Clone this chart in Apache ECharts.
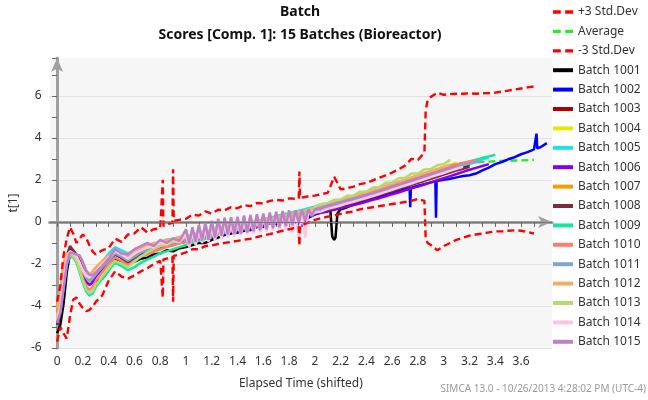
<!DOCTYPE html>
<html>
<head>
<meta charset="utf-8">
<script src="https://cdn.jsdelivr.net/npm/echarts@6/dist/echarts.min.js"></script>
<style>
  html, body { margin: 0; padding: 0; background: #fff; }
  #chart { width: 648px; height: 400px; }
</style>
</head>
<body>
<div id="chart"></div>
<script>
// elapsed time grid shared by all trajectories
const tGrid = [0, 0.025, 0.05, 0.075, 0.1, 0.125, 0.15, 0.175, 0.2, 0.225, 0.25, 0.275, 0.3,
  0.35, 0.4, 0.45, 0.5, 0.55, 0.6, 0.65, 0.7, 0.75, 0.8, 0.85, 0.9, 0.95,
  1.0, 1.05, 1.1, 1.15, 1.2, 1.25, 1.3, 1.35, 1.4, 1.45, 1.5, 1.55, 1.6, 1.65, 1.7, 1.75, 1.8, 1.85, 1.9, 1.95,
  2.0, 2.05, 2.1, 2.15, 2.2, 2.25, 2.3, 2.35, 2.4, 2.45, 2.5, 2.55, 2.6, 2.65, 2.7, 2.75, 2.8, 2.85, 2.9, 2.95,
  3.0, 3.05, 3.1, 3.15, 3.2, 3.25, 3.3, 3.35, 3.4, 3.45, 3.5, 3.55, 3.6, 3.65, 3.7, 3.75, 3.8];

const xTickVals = [0, 0.1, 0.2, 0.3, 0.4, 0.5, 0.6, 0.7, 0.8, 0.9, 1, 1.1, 1.2, 1.3, 1.4, 1.5, 1.6, 1.7, 1.8, 1.9,
  2, 2.1, 2.2, 2.3, 2.4, 2.5, 2.6, 2.7, 2.8, 2.9, 3, 3.1, 3.2, 3.3, 3.4, 3.5, 3.6, 3.7];
const xLabelVals = [0, 0.2, 0.4, 0.6, 0.8, 1, 1.2, 1.4, 1.6, 1.8, 2, 2.2, 2.4, 2.6, 2.8, 3, 3.2, 3.4, 3.6];

// control limits
const upper = [-3.8, -3.0, -1.6, -0.8, -0.25, -0.55, -1.0, -0.8, -0.6, -0.75, -1.1, -1.4, -1.55,
  -1.35, -1.25, -0.8, -0.95, -0.6, -0.55, -0.25, -0.5, -0.35, -0.3, -0.1, 2.5, 0.1,
  0.15, 0.35, 0.3, 0.5, 0.4, 0.58, 0.55, 0.7, 0.65, 0.8, 0.75, 0.9, 0.88, 1.0, 1.05, 1.02, 1.12, 1.1, 1.2, 1.22,
  1.25, 1.32, 1.38, 2.15, 1.55, 1.6, 1.68, 1.8, 1.85, 1.98, 2.1, 2.22, 2.35, 2.5, 2.68, 3.0, 2.95, 3.3, 5.95, 6.15,
  6.05, 6.08, 6.1, 6.1, 6.12, 6.1, 6.12, 6.13, 6.15, 6.2, 6.25, 6.3, 6.35, 6.4, 6.45];
const upperExtra = [[0.815, -0.25], [0.82, 2.0], [0.825, -0.2], [0.895, -0.05], [0.905, 0.05],
  [1.875, 1.12], [1.88, 2.4], [1.885, 1.14], [2.86, 5.3], [2.875, 5.8]];

const average = [-4.6, -4.1, -3.0, -1.9, -1.5, -1.55, -1.7, -1.95, -2.35, -2.65, -2.75, -2.65, -2.45,
  -2.15, -1.85, -1.5, -1.65, -1.85, -1.65, -1.45, -1.35, -1.25, -1.15, -1.05, -1.0, -0.9,
  -0.85, -0.78, -0.7, -0.62, -0.55, -0.48, -0.4, -0.35, -0.3, -0.25, -0.2, -0.12, -0.05, 0.03, 0.1, 0.18, 0.25, 0.33, 0.4, 0.48,
  0.57, 0.65, 0.74, 0.82, 0.9, 1.0, 1.08, 1.17, 1.26, 1.35, 1.45, 1.55, 1.65, 1.75, 1.85, 1.95, 2.05, 2.15, 2.27, 2.4,
  2.52, 2.64, 2.72, 2.76, 2.8, 2.83, 2.85, 2.87, 2.89, 2.9, 2.91, 2.92, 2.93, 2.94, 2.95];

const lower = [-5.7, -5.0, -5.3, -5.55, -4.5, -3.7, -3.6, -3.9, -4.1, -4.25, -4.2, -4.05, -3.8,
  -3.5, -2.8, -2.35, -2.6, -2.7, -2.55, -2.35, -2.2, -2.0, -1.85, -1.75, -3.8, -1.55,
  -1.45, -1.3, -1.3, -1.15, -1.12, -1.05, -1.0, -0.95, -0.9, -0.85, -0.8, -0.72, -0.65, -0.58, -0.5, -0.42, -0.35, -0.28, -0.15, -0.02,
  0.1, 0.18, 0.25, 0.3, 0.38, 0.45, 0.5, 0.6, 0.65, 0.7, 0.75, 0.8, 0.85, 0.9, 0.95, 1.0, 1.1, 1.0, -1.1, -1.35,
  -1.15, -1.0, -0.85, -0.75, -0.65, -0.6, -0.55, -0.5, -0.45, -0.45, -0.42, -0.4, -0.42, -0.48, -0.55];
const lowerExtra = [[0.815, -1.8], [0.82, -3.6], [0.825, -1.78], [0.895, -1.65], [0.905, -1.62],
  [1.875, -0.22], [1.88, -1.15], [1.885, -0.2], [2.86, -0.8], [2.875, -1.0]];

// batch trajectories t[1]
const b1001 = [-5.3, -4.9, -3.9, -2.4, -1.5, -1.6, -1.75, -2.0, -2.3, -2.55, -2.7, -2.8, -2.85,
  -2.7, -2.3, -1.8, -1.85, -2.0, -1.9, -1.75, -1.7, -1.55, -1.5, -1.35, -1.4, -1.25,
  -1.2, -1.1, -1.0, -1.0, -0.85, -0.75, -0.62, -0.55, -0.5, -0.42, -0.35, -0.25, -0.15, -0.08, 0.0, 0.08, 0.15, 0.22, 0.3, 0.38,
  0.45, 0.5, 0.58, -0.85, 0.6, 0.7, 0.82, 0.92, 1.02, 1.12, 1.22, 1.32, 1.45, 1.55, 1.65, 1.78, 1.9, 2.0, 2.1, 2.22,
  2.32, 2.42, 2.52, 2.6, 2.7];
const b1001Extra = [[2.12, 0.55], [2.135, -0.7], [2.16, -0.75], [2.175, 0.4]];

const b1002 = [-4.9, -4.4, -3.3, -2.1, -1.55, -1.5, -1.65, -1.95, -2.4, -2.7, -2.85, -2.75, -2.55,
  -2.2, -1.9, -1.55, -1.7, -1.9, -1.7, -1.5, -1.45, -1.35, -1.2, -1.15, -1.05, -1.0,
  -0.95, -0.85, -0.85, -0.7, -0.72, -0.55, -0.6, -0.4, -0.5, -0.3, -0.4, -0.15, -0.25, 0.05, -0.1, 0.2, 0.05, 0.0, -0.2, 0.2,
  0.35, 0.45, 0.5, 0.6, 0.68, 0.75, 0.85, 0.92, 1.02, 1.1, 1.2, 1.28, 1.38, 1.45, 1.55, 1.65, 1.72, 1.8, 1.88, 1.95,
  2.0, 2.05, 2.12, 2.18, 2.22, 2.3, 2.45, 2.58, 2.75, 2.85, 2.98, 3.08, 3.22, 3.32, 3.45, 3.55, 3.75];
const b1002Extra = [[2.735, 1.6], [2.74, 0.7], [2.745, 1.62], [2.935, 1.93], [2.94, 0.2], [2.945, 1.95],
  [3.715, 3.47], [3.72, 4.2], [3.725, 3.5]];

const b1003 = [-4.7, -4.2, -3.0, -1.8, -1.3, -1.4, -1.6, -1.9, -2.3, -2.6, -2.7, -2.6, -2.4,
  -2.1, -1.8, -1.45, -1.6, -1.8, -1.6, -1.4, -1.3, -1.2, -1.1, -1.0, -0.95, -0.85,
  -0.8, -0.72, -0.65, -0.55, -0.5, -0.42, -0.35, -0.3, -0.25, -0.2, -0.15, -0.08, 0.0, 0.08, 0.15, 0.22, 0.3, 0.38, 0.45, 0.52,
  0.62, 0.7, 0.78, 0.87, 0.95, 1.05, 1.13, 1.22, 1.32, 1.42, 1.52, 1.62, 1.72, 1.82, 1.92, 2.02, 2.12, 2.22, 2.32, 2.42,
  2.52, 2.62, 2.72, 2.8];

const b1004 = [-4.5, -3.9, -2.7, -1.7, -1.45, -1.5, -1.7, -2.0, -2.45, -2.75, -2.85, -2.7, -2.45,
  -2.05, -1.75, -1.45, -1.6, -1.8, -1.55, -1.35, -1.25, -1.15, -1.05, -0.95, -0.9, -0.8,
  -0.75, -0.6, -0.65, -0.45, -0.5, -0.3, -0.35, -0.15, -0.25, -0.05, -0.15, 0.05, 0.0, 0.2, 0.18, 0.35, 0.35, 0.45, 0.5, 0.6,
  0.7, 0.8, 0.88, 0.97, 1.05, 1.15, 1.24, 1.33, 1.42, 1.52, 1.62, 1.72, 1.82, 1.92, 2.02, 2.12, 2.22, 2.32, 2.42, 2.52,
  2.62, 2.72, 2.82];

const b1005 = [-3.8, -3.2, -2.0, -1.5, -1.4, -1.45, -1.6, -1.85, -2.2, -2.5, -2.6, -2.45, -2.2,
  -1.9, -1.5, -1.2, -1.35, -1.5, -1.35, -1.2, -1.1, -1.05, -0.95, -0.85, -0.8, -0.72,
  -0.68, -0.6, -0.52, -0.45, -0.38, -0.3, -0.25, -0.18, -0.12, -0.08, -0.02, 0.05, 0.12, 0.2, 0.27, 0.35, 0.42, 0.5, 0.57, 0.65,
  0.72, 0.84, 0.86, 1.0, 1.03, 1.17, 1.2, 1.34, 1.38, 1.52, 1.56, 1.7, 1.74, 1.89, 1.93, 2.08, 2.12, 2.27, 2.3, 2.46,
  2.5, 2.64, 2.66, 2.8, 2.82, 2.96, 2.98, 3.05];

const b1006 = [-4.8, -4.3, -3.1, -2.0, -1.6, -1.55, -1.75, -2.1, -2.55, -2.85, -3.0, -2.9, -2.6,
  -2.25, -1.9, -1.55, -1.7, -1.9, -1.7, -1.5, -1.4, -1.3, -1.2, -1.1, -1.05, -0.95,
  -0.9, -0.82, -0.75, -0.68, -0.62, -0.55, -0.48, -0.42, -0.38, -0.33, -0.28, -0.2, -0.15, -0.08, 0.0, 0.05, 0.12, 0.18, 0.24, 0.3,
  0.38, 0.45, 0.52, 0.58, 0.65, 0.73, 0.8, 0.88, 0.96, 1.05, 1.13, 1.22, 1.32, 1.4, 1.5, 1.6, 1.68, 1.78, 1.88, 1.98,
  2.08, 2.18, 2.28, 2.38, 2.48, 2.57, 2.66, 2.75];

const b1007 = [-4.3, -3.6, -2.2, -1.55, -1.5, -1.6, -1.8, -2.05, -2.4, -2.65, -2.7, -2.55, -2.3,
  -1.95, -1.65, -1.4, -1.55, -1.7, -1.45, -1.3, -1.15, -1.1, -0.95, -0.95, -0.8, -0.8,
  -0.7, -0.68, -0.55, -0.55, -0.4, -0.42, -0.25, -0.3, -0.15, -0.2, -0.05, -0.05, 0.08, 0.1, 0.22, 0.25, 0.35, 0.4, 0.48, 0.55,
  0.66, 0.75, 0.84, 0.92, 1.0, 1.1, 1.2, 1.28, 1.38, 1.47, 1.57, 1.67, 1.77, 1.87, 1.97, 2.07, 2.17, 2.27, 2.37, 2.47,
  2.57, 2.67, 2.76];

const b1008 = [-4.9, -4.4, -3.0, -1.6, -1.15, -1.35, -1.55, -1.85, -2.25, -2.55, -2.65, -2.6, -2.45,
  -2.2, -1.9, -1.55, -1.7, -1.9, -1.72, -1.5, -1.42, -1.32, -1.22, -1.12, -1.08, -0.98,
  -0.92, -0.86, -0.78, -0.7, -0.64, -0.57, -0.5, -0.45, -0.4, -0.35, -0.3, -0.22, -0.16, -0.08, -0.02, 0.05, 0.12, 0.2, 0.26, 0.34,
  0.42, 0.5, 0.58, 0.66, 0.74, 0.83, 0.92, 1.0, 1.1, 1.18, 1.28, 1.37, 1.47, 1.56, 1.66, 1.76, 1.86, 1.95, 2.05, 2.15,
  2.25, 2.35, 2.45, 2.53, 2.62];

const b1009 = [-4.7, -4.2, -3.1, -2.0, -1.6, -1.7, -1.95, -2.4, -2.9, -3.3, -3.5, -3.4, -3.1,
  -2.7, -2.3, -1.95, -2.1, -2.3, -2.15, -1.95, -1.8, -1.65, -1.5, -1.4, -1.3, -1.2,
  -1.1, -1.0, -0.9, -0.8, -0.7, -0.6, -0.52, -0.45, -0.38, -0.3, -0.22, -0.14, -0.05, 0.03, 0.1, 0.18, 0.26, 0.34, 0.42, 0.5,
  0.58, 0.67, 0.76, 0.85, 0.94, 1.03, 1.12, 1.21, 1.3, 1.4, 1.5, 1.6, 1.7, 1.8, 1.9, 2.0, 2.1, 2.2, 2.3, 2.4,
  2.5, 2.6, 2.7, 2.78, 2.87, 2.95, 3.05, 3.12, 3.2];

const b1010 = [-4.6, -4.0, -2.8, -1.8, -1.5, -1.6, -1.8, -2.2, -2.7, -3.05, -3.25, -3.1, -2.8,
  -2.4, -2.0, -1.7, -1.85, -2.05, -1.85, -1.65, -1.55, -1.42, -1.3, -1.2, -1.12, -1.02,
  -0.95, -0.85, -0.78, -0.68, -0.62, -0.52, -0.45, -0.38, -0.32, -0.25, -0.2, -0.1, -0.04, 0.06, 0.12, 0.22, 0.28, 0.37, 0.44, 0.53,
  0.62, 0.71, 0.8, 0.88, 0.96, 1.06, 1.15, 1.24, 1.33, 1.42, 1.52, 1.62, 1.72, 1.82, 1.92, 2.02, 2.12, 2.22, 2.32, 2.42,
  2.52, 2.62, 2.71, 2.8, 2.88, 2.95];

const b1011 = [-4.6, -4.1, -2.9, -1.8, -1.45, -1.5, -1.65, -1.95, -2.35, -2.65, -2.8, -2.7, -2.5,
  -2.15, -1.85, -1.5, -1.65, -1.85, -1.65, -1.45, -1.35, -1.25, -1.15, -1.05, -1.0, -0.9,
  -0.85, -0.78, -0.7, -0.62, -0.55, -0.48, -0.4, -0.35, -0.3, -0.25, -0.2, -0.12, -0.05, 0.03, 0.1, 0.18, 0.25, 0.33, 0.4, 0.47,
  0.55, 0.62, 0.7, 0.78, 0.86, 0.95, 1.03, 1.12, 1.2, 1.3, 1.4, 1.5, 1.6, 1.7, 1.8, 1.9, 2.0, 2.1, 2.2, 2.3,
  2.4, 2.5, 2.6, 2.68, 2.76, 2.84, 2.92];

const b1012 = [-4.1, -3.4, -2.0, -1.5, -1.5, -1.65, -1.85, -2.1, -2.35, -2.5, -2.5, -2.35, -2.15,
  -1.85, -1.6, -1.4, -1.5, -1.65, -1.4, -1.2, -1.15, -1.0, -0.98, -0.85, -0.85, -0.72,
  -0.7, -0.6, -0.58, -0.45, -0.45, -0.32, -0.32, -0.2, -0.2, -0.08, -0.1, 0.05, 0.05, 0.18, 0.2, 0.3, 0.35, 0.42, 0.5, 0.58,
  0.68, 0.78, 0.87, 0.95, 1.04, 1.14, 1.23, 1.32, 1.42, 1.52, 1.62, 1.72, 1.82, 1.92, 2.02, 2.12, 2.22, 2.32, 2.42, 2.52,
  2.62, 2.72];

const b1013 = [-4.7, -4.2, -3.0, -1.9, -1.55, -1.6, -1.85, -2.3, -2.8, -3.2, -3.4, -3.3, -3.0,
  -2.6, -2.2, -1.85, -2.0, -2.15, -1.9, -1.65, -1.45, -1.3, -1.15, -1.1, -0.95, -0.95,
  -0.4, -0.3, -0.15, -0.05, 0.05, 0.12, 0.18, 0.2, 0.22, 0.25, 0.28, 0.3, 0.33, 0.36, 0.4, 0.42, 0.45, 0.48, 0.52, 0.55,
  0.7, 0.85, 0.88, 1.05, 1.06, 1.24, 1.25, 1.44, 1.45, 1.64, 1.66, 1.86, 1.88, 2.08, 2.1, 2.3, 2.3, 2.5, 2.52, 2.7,
  2.75, 2.95];
const b1013Extra = [[1.025, -1.0], [1.075, -0.9], [1.125, -0.8], [1.175, -0.72], [1.225, -0.62], [1.275, -0.55],
  [1.325, -0.5], [1.375, -0.45], [1.425, -0.4], [1.475, -0.35], [1.525, -0.3], [1.575, -0.25], [1.625, -0.2],
  [1.675, -0.12], [1.725, -0.05], [1.775, 0.02], [1.825, 0.1], [1.875, 0.2], [1.925, 0.3], [1.975, 0.5]];

const b1014 = [-4.6, -4.0, -2.8, -1.7, -1.4, -1.5, -1.65, -1.95, -2.3, -2.55, -2.65, -2.55, -2.35,
  -2.0, -1.7, -1.4, -1.55, -1.75, -1.5, -1.35, -1.2, -1.2, -1.0, -1.05, -0.85, -0.95,
  -0.6, -0.5, -0.42, -0.35, -0.28, -0.2, -0.12, -0.08, -0.02, 0.02, 0.08, 0.15, 0.2, 0.28, 0.32, 0.38, 0.42, 0.48, 0.52, 0.55,
  0.45, 0.5, 0.62, 0.7, 0.78, 0.88, 0.96, 1.05, 1.14, 1.23, 1.33, 1.43, 1.53, 1.63, 1.73, 1.83, 1.93, 2.03, 2.13, 2.23,
  2.33, 2.43, 2.53, 2.62];
const b1014Extra = [[1.025, -1.2], [1.075, -1.1], [1.125, -1.0], [1.175, -0.95], [1.225, -0.88], [1.275, -0.8],
  [1.325, -0.75], [1.375, -0.7], [1.425, -0.65], [1.475, -0.6], [1.525, -0.55], [1.575, -0.5], [1.625, -0.45],
  [1.675, -0.4], [1.725, -0.35], [1.775, -0.4], [1.825, -0.5], [1.875, -0.8], [1.925, -0.75], [1.975, 0.3]];

const b1015 = [-4.8, -4.3, -3.2, -2.0, -1.45, -1.5, -1.55, -1.6, -1.9, -2.3, -2.5, -2.55, -2.4,
  -2.1, -1.75, -1.3, -1.5, -1.55, -1.3, -1.15, -1.0, -1.15, -0.85, -1.0, -0.8, -0.9,
  -0.35, -0.25, -0.15, -0.05, 0.05, 0.15, 0.2, 0.22, 0.25, 0.3, 0.33, 0.36, 0.4, 0.45, 0.48, 0.52, 0.55, 0.55, 0.58, 0.6,
  0.6, 0.68, 0.78, 0.85, 0.95, 1.03, 1.12, 1.2, 1.3, 1.38, 1.48, 1.58, 1.68, 1.78, 1.88, 1.98, 2.08, 2.18, 2.28, 2.38,
  2.48, 2.58, 2.68];
const b1015Extra = [[1.025, -1.05], [1.075, -0.95], [1.125, -0.9], [1.175, -0.85], [1.225, -0.75], [1.275, -0.65],
  [1.325, -0.6], [1.375, -0.58], [1.425, -0.55], [1.475, -0.5], [1.525, -0.45], [1.575, -0.4], [1.625, -0.35],
  [1.675, -0.3], [1.725, -0.25], [1.775, -0.2], [1.825, -0.15], [1.875, -0.05], [1.925, 0.05], [1.975, 0.3]];

const batchNames = ['Batch 1001', 'Batch 1002', 'Batch 1003', 'Batch 1004', 'Batch 1005', 'Batch 1006', 'Batch 1007',
  'Batch 1008', 'Batch 1009', 'Batch 1010', 'Batch 1011', 'Batch 1012', 'Batch 1013', 'Batch 1014', 'Batch 1015'];
const batchValues = [b1001, b1002, b1003, b1004, b1005, b1006, b1007, b1008, b1009, b1010, b1011, b1012, b1013, b1014, b1015];
const batchExtras = {
  'Batch 1001': b1001Extra, 'Batch 1002': b1002Extra,
  'Batch 1013': b1013Extra, 'Batch 1014': b1014Extra, 'Batch 1015': b1015Extra
};
const batchColors = ['#000000', '#0000ff', '#b00000', '#e8e800', '#20e0e8', '#8a00e6', '#f0a000',
  '#7b2c40', '#10e89a', '#ff7d6e', '#7aa8d2', '#f8ac62', '#b2dc6c', '#ffc4e2', '#c080c8'];

function toPoints(vals, extra) {
  const pts = vals.map(function (v, i) { return [tGrid[i], v]; });
  if (extra) pts.push.apply(pts, extra);
  pts.sort(function (a, b) { return a[0] - b[0]; });
  return pts;
}

const FONT = 'Noto Sans';
const ICON_SOLID = 'path://M0,0H20V4H0Z';
const ICON_DASH = 'path://M0,0H7V3H0Z M11,0H18V3H11Z';

const chart = echarts.init(document.getElementById('chart'), null, { renderer: 'canvas' });

const series = [];
series.push({
  name: 'Average', type: 'line', data: toPoints(average), symbol: 'none', showSymbol: false,
  lineStyle: { color: '#22ee22', width: 2.4, type: [7, 4] }, itemStyle: { color: '#22ee22' },
  silent: true, animation: false,
  markLine: {
    silent: true, symbol: 'none', animation: false, label: { show: false },
    lineStyle: { color: '#777777', width: 1.2, type: 'solid' },
    data: [{ yAxis: 0 }]
  }
});
batchNames.forEach(function (name, i) {
  series.push({
    name: name, type: 'line', data: toPoints(batchValues[i], batchExtras[name]),
    symbol: 'none', showSymbol: false,
    lineStyle: { color: batchColors[i], width: 2.5 }, itemStyle: { color: batchColors[i] },
    silent: true, animation: false
  });
});
series.push({
  name: '+3 Std.Dev', type: 'line', data: toPoints(upper, upperExtra), symbol: 'none', showSymbol: false,
  lineStyle: { color: '#ff0000', width: 2.4, type: [7, 4] }, itemStyle: { color: '#ff0000' },
  silent: true, animation: false
});
series.push({
  name: '-3 Std.Dev', type: 'line', data: toPoints(lower, lowerExtra), symbol: 'none', showSymbol: false,
  lineStyle: { color: '#ff0000', width: 2.4, type: [7, 4] }, itemStyle: { color: '#ff0000' },
  silent: true, animation: false
});

const legendData = [
  { name: '+3 Std.Dev', icon: ICON_DASH },
  { name: 'Average', icon: ICON_DASH },
  { name: '-3 Std.Dev', icon: ICON_DASH }
].concat(batchNames.map(function (n) { return { name: n, icon: ICON_SOLID }; }));

const option = {
  backgroundColor: '#ffffff',
  animation: false,
  textStyle: { fontFamily: FONT },
  grid: {
    left: 48, right: 96, top: 58, bottom: 52,
    show: true, backgroundColor: '#f6f6f6', borderWidth: 0
  },
  legend: {
    orient: 'vertical', left: 548, top: 1,
    itemWidth: 20, itemHeight: 12, itemGap: 7.4,
    textStyle: { fontFamily: FONT, fontSize: 12, color: '#333' },
    data: legendData, selectedMode: false
  },
  xAxis: {
    type: 'value', min: -0.058, max: 3.84,
    name: 'Elapsed Time (shifted)', nameLocation: 'middle', nameGap: 30,
    nameTextStyle: { fontFamily: FONT, fontSize: 12, color: '#333' },
    axisLine: { show: true, symbol: ['none', 'arrow'], symbolSize: [9, 14],
      lineStyle: { color: '#a0a0a0', width: 3 } },
    axisTick: { show: true, length: 5, customValues: xTickVals, lineStyle: { color: '#666' } },
    axisLabel: { customValues: xLabelVals, margin: 8, fontSize: 12, color: '#333', fontFamily: FONT },
    splitLine: { show: false }
  },
  yAxis: {
    type: 'value', min: -6, max: 7.8, interval: 2,
    name: 't[1]', nameLocation: 'middle', nameGap: 24, nameRotate: 90,
    nameTextStyle: { fontFamily: FONT, fontSize: 12, color: '#333' },
    axisLine: { show: true, symbol: ['none', 'arrow'], symbolSize: [9, 14],
      lineStyle: { color: '#a0a0a0', width: 3 } },
    axisTick: { show: true, length: 5, lineStyle: { color: '#666' } },
    minorTick: { show: true, splitNumber: 2, length: 5, lineStyle: { color: '#666' } },
    axisLabel: { margin: 8, fontSize: 12, color: '#333', fontFamily: FONT, showMaxLabel: false },
    splitLine: { show: true, showMaxLine: false, lineStyle: { color: '#e2e2e2', width: 1 } }
  },
  graphic: [
    { type: 'text', silent: true,
      style: { text: 'Batch', x: 300, y: 12, textAlign: 'center', textVerticalAlign: 'middle',
        font: 'bold 14px "Noto Sans"', fill: '#111' } },
    { type: 'text', silent: true,
      style: { text: 'Scores [Comp. 1]: 15 Batches (Bioreactor)', x: 300, y: 35, textAlign: 'center',
        textVerticalAlign: 'middle', font: 'bold 14px "Noto Sans"', fill: '#111' } },
    { type: 'text', silent: true,
      style: { text: 'SIMCA 13.0 - 10/26/2013 4:28:02 PM (UTC-4)', x: 646, y: 389, textAlign: 'right',
        textVerticalAlign: 'middle', font: '10px "Noto Sans"', fill: '#9a9a9a' } }
  ],
  series: series
};

chart.setOption(option);
</script>
</body>
</html>
